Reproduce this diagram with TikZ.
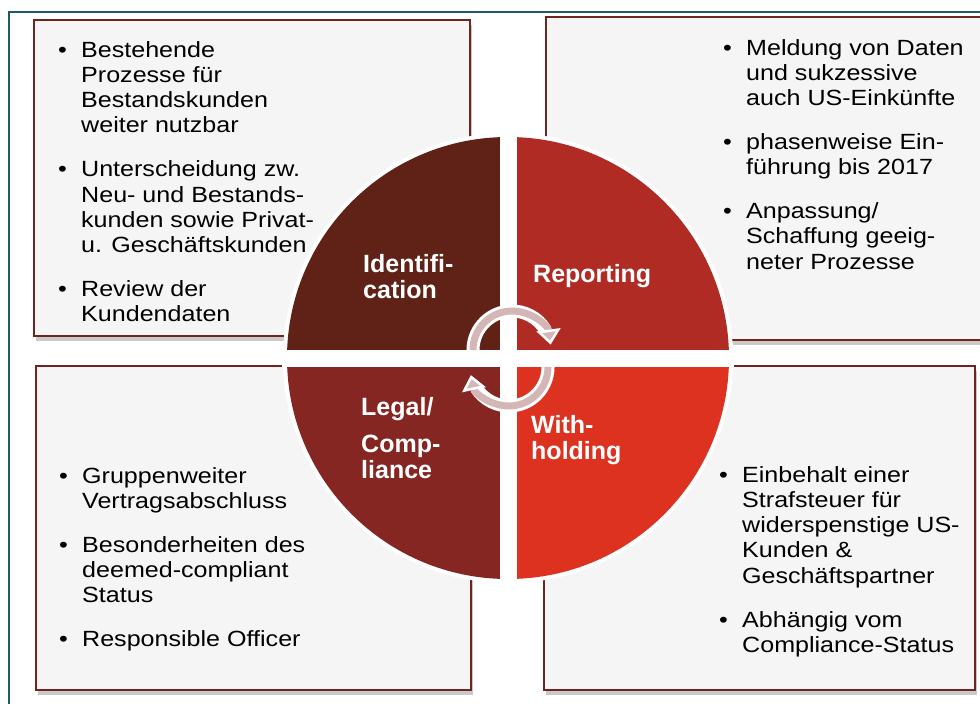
\documentclass[tikz,border=0pt]{standalone}
\usepackage{fontspec}
\setmainfont{Liberation Sans}
\newfontfamily\boxfont[FakeStretch=1.14]{Liberation Sans}
\usetikzlibrary{shadows}
\usetikzlibrary{arrows.meta}
\definecolor{frameteal}{RGB}{31,89,101}
\definecolor{boxred}{RGB}{112,36,30}
\definecolor{boxgray}{RGB}{245,245,245}
\definecolor{identcol}{RGB}{96,33,22}
\definecolor{repcol}{RGB}{176,43,35}
\definecolor{legalcol}{RGB}{134,38,35}
\definecolor{withcol}{RGB}{222,50,33}
\definecolor{arrowpink}{RGB}{213,182,182}
\tikzset{
  frame line/.style={draw=frameteal,line width=2pt},
  info box/.style={draw=boxred,line width=2pt,fill=boxgray,
    drop shadow={shadow xshift=2pt,shadow yshift=-5pt,opacity=.3,fill=black!70}},
  info text/.style={anchor=base west,inner sep=0pt,text=black,
    font=\boxfont\fontsize{22}{25.3}\selectfont},
  quad label/.style={anchor=base west,inner sep=0pt,text=white,
    font=\bfseries\fontsize{25}{26}\selectfont},
  arrow rim/.style={draw=white,line width=13pt},
  arrow core/.style={draw=arrowpink,line width=7pt,
    -{Triangle[length=15pt,width=24pt,fill=arrowpink,color=white,line width=2.5pt]}}
}
\newcommand{\nextitem}{\\[18.5pt]}

\begin{document}
\begin{tikzpicture}[x=1pt,y=-1pt]
  \useasboundingbox (0,0) rectangle (980,704);
  % outer frame
  \draw[frame line] (9,710) |- (990,12);

  % the four text boxes
  \draw[info box] (34,20) rectangle (470,336);
  \draw[info box] (546,17) rectangle (995,340);
  \draw[info box] (36,366) rectangle (471,690);
  \draw[info box] (544,366) rectangle (975,690);

  \node[info text] (identtext) at (58,57) {\begin{tabular}[t]{@{}p{23pt}@{}l@{}}
    \textbullet & Bestehende\\ & Prozesse für\\ & Bestandskunden\\ & weiter nutzbar\nextitem
    \textbullet & Unterscheidung zw.\\ & Neu- und Bestands-\\ & kunden sowie Privat-\\ & u. Geschäftskunden\nextitem
    \textbullet & Review der\\ & Kundendaten
  \end{tabular}};
  \node[info text] (reptext) at (723,55) {\begin{tabular}[t]{@{}p{23pt}@{}l@{}}
    \textbullet & Meldung von Daten\\ & und sukzessive\\ & auch US-Einkünfte\nextitem
    \textbullet & phasenweise Ein-\\ & führung bis 2017\nextitem
    \textbullet & Anpassung/\\ & Schaffung geeig-\\ & neter Prozesse
  \end{tabular}};
  \node[info text] (legaltext) at (59,483) {\begin{tabular}[t]{@{}p{23pt}@{}l@{}}
    \textbullet & Gruppenweiter\\ & Vertragsabschluss\nextitem
    \textbullet & Besonderheiten des\\ & deemed-compliant\\ & Status\nextitem
    \textbullet & Responsible Officer
  \end{tabular}};
  \node[info text] (withtext) at (719,482) {\begin{tabular}[t]{@{}p{23pt}@{}l@{}}
    \textbullet & Einbehalt einer\\ & Strafsteuer für\\ & widerspenstige US-\\ & Kunden \&\\ & Geschäftspartner\nextitem
    \textbullet & Abhängig vom\\ & Compliance-Status
  \end{tabular}};

  % the circle
  \coordinate (hub) at (508,358);
  \fill[white] (hub) circle[radius=225];
  \fill[identcol] (hub) -- ++(180:221) arc[start angle=180,end angle=270,radius=221] -- cycle;
  \fill[repcol] (hub) -- ++(270:221) arc[start angle=270,end angle=360,radius=221] -- cycle;
  \fill[withcol] (hub) -- ++(0:221) arc[start angle=0,end angle=90,radius=221] -- cycle;
  \fill[legalcol] (hub) -- ++(90:221) arc[start angle=90,end angle=180,radius=221] -- cycle;
  \fill[white] ([shift={(-8.5,-226)}]hub) rectangle ([shift={(8.5,226)}]hub);
  \fill[white] ([shift={(-226,-8.5)}]hub) rectangle ([shift={(226,8.5)}]hub);

  \node[quad label] (ident) at (363,272) {\begin{tabular}[t]{@{}l@{}}Identifi-\\cation\end{tabular}};
  \node[quad label] (rep) at (533,282) {Reporting};
  \node[quad label] (legal) at (361,415) {\begin{tabular}[t]{@{}l@{}}Legal/\\[11pt]Comp-\\liance\end{tabular}};
  \node[quad label] (with) at (531,433) {\begin{tabular}[t]{@{}l@{}}With-\\holding\end{tabular}};

  % cycle arrows
  \coordinate (upc) at (512,350);
  \coordinate (lowc) at (509,367);
  \draw[arrow rim] ([shift={(175:39)}]upc) arc[start angle=175,end angle=330,radius=39];
  \draw[arrow core] ([shift={(180:39)}]upc) arc[start angle=180,end angle=352,radius=39];
  \draw[arrow rim] ([shift={(-5:39)}]lowc) arc[start angle=-5,end angle=148,radius=39];
  \draw[arrow core] ([shift={(0:39)}]lowc) arc[start angle=0,end angle=168,radius=39];
\end{tikzpicture}
\end{document}
